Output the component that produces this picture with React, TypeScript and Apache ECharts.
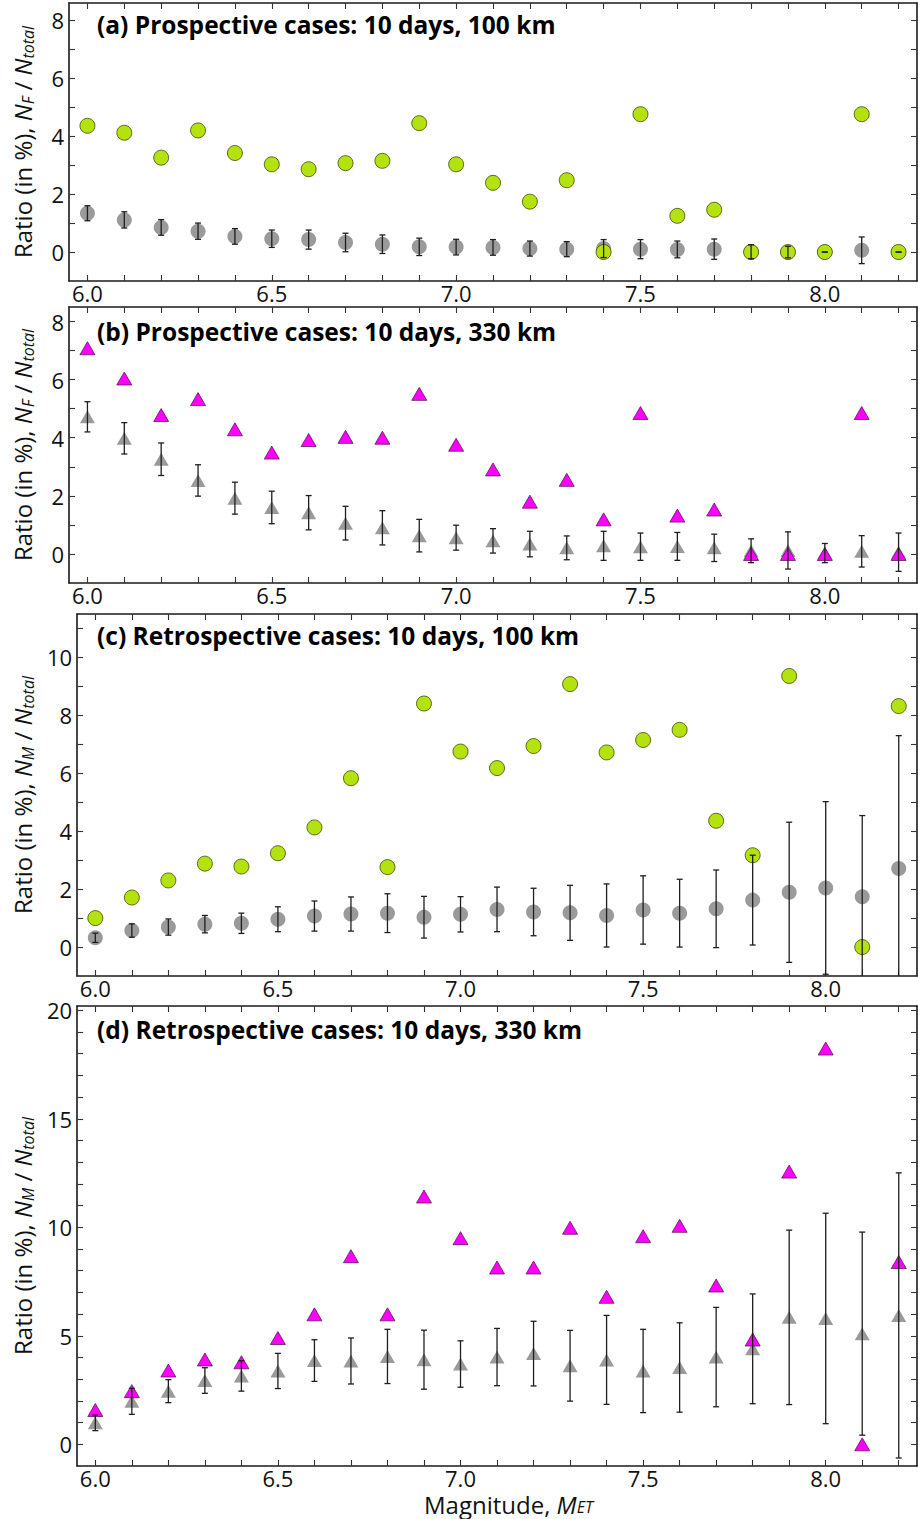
import React, { useEffect, useRef } from "react";
import * as echarts from "echarts";

// ---------- data ----------
const magnitudes = [6.0, 6.1, 6.2, 6.3, 6.4, 6.5, 6.6, 6.7, 6.8, 6.9, 7.0, 7.1, 7.2, 7.3, 7.4, 7.5, 7.6, 7.7, 7.8, 7.9, 8.0, 8.1, 8.2];
const xTickLabels = [6.0, 6.5, 7.0, 7.5, 8.0];

const panelTitles = [
  "(a) Prospective cases: 10 days, 100 km",
  "(b) Prospective cases: 10 days, 330 km",
  "(c) Retrospective cases: 10 days, 100 km",
  "(d) Retrospective cases: 10 days, 330 km",
];
const xAxisTitle = "Magnitude, {i|M}{s|ET}";

// (a) prospective, 100 km
const aObserved = [4.36, 4.12, 3.26, 4.20, 3.42, 3.03, 2.86, 3.07, 3.15, 4.45, 3.03, 2.39, 1.74, 2.48, 0, 4.76, 1.25, 1.46, 0, 0, 0, 4.76, 0];
const aRandom = [1.34, 1.11, 0.85, 0.72, 0.54, 0.46, 0.43, 0.33, 0.27, 0.18, 0.17, 0.16, 0.12, 0.10, 0.12, 0.10, 0.09, 0.10, 0.01, 0.0, 0.0, 0.06, 0.0];
const aError = [0.26, 0.28, 0.27, 0.28, 0.27, 0.30, 0.33, 0.32, 0.32, 0.30, 0.27, 0.27, 0.26, 0.26, 0.31, 0.33, 0.29, 0.35, 0.24, 0.20, 0.0, 0.46, 0.0];

// (b) prospective, 330 km
const bObserved = [7.08, 6.04, 4.78, 5.33, 4.29, 3.49, 3.92, 4.03, 4.00, 5.51, 3.76, 2.91, 1.80, 2.55, 1.19, 4.85, 1.32, 1.53, 0, 0, 0, 4.85, 0];
const bRandom = [4.72, 3.98, 3.26, 2.53, 1.92, 1.60, 1.42, 1.06, 0.90, 0.63, 0.56, 0.45, 0.34, 0.21, 0.28, 0.25, 0.26, 0.21, 0.11, 0.12, 0.03, 0.09, 0.06];
const bError = [0.52, 0.54, 0.56, 0.54, 0.55, 0.56, 0.59, 0.58, 0.59, 0.56, 0.43, 0.42, 0.44, 0.41, 0.50, 0.47, 0.48, 0.47, 0.41, 0.64, 0.33, 0.54, 0.66];

// (c) retrospective, 100 km
const cObserved = [1.0, 1.71, 2.30, 2.88, 2.78, 3.24, 4.13, 5.83, 2.76, 8.41, 6.75, 6.18, 6.94, 9.08, 6.72, 7.15, 7.50, 4.36, 3.17, 9.36, null, 0, 8.32];
const cRandom = [0.32, 0.57, 0.69, 0.79, 0.82, 0.96, 1.07, 1.14, 1.17, 1.03, 1.13, 1.30, 1.21, 1.18, 1.09, 1.28, 1.17, 1.32, 1.62, 1.89, 2.04, 1.74, 2.71];
const cError = [0.16, 0.23, 0.28, 0.30, 0.35, 0.43, 0.52, 0.59, 0.67, 0.72, 0.61, 0.77, 0.82, 0.95, 1.09, 1.18, 1.17, 1.34, 1.55, 2.42, 2.98, 2.80, 4.59];

// (d) retrospective, 330 km
const dObserved = [1.58, 2.45, 3.40, 3.91, 3.78, 4.90, 5.99, 8.67, 5.99, 11.42, 9.50, 8.15, 8.15, 9.98, 6.80, 9.59, 10.07, 7.32, 4.83, 12.57, 18.24, 0, 8.40];
const dRandom = [0.99, 1.98, 2.45, 2.94, 3.15, 3.38, 3.86, 3.84, 4.05, 3.90, 3.70, 4.02, 4.18, 3.62, 3.89, 3.38, 3.54, 4.02, 4.40, 5.85, 5.80, 5.10, 5.94];
const dError = [0.36, 0.60, 0.53, 0.59, 0.70, 0.81, 0.96, 1.06, 1.25, 1.36, 1.07, 1.32, 1.49, 1.63, 2.05, 1.92, 2.06, 2.29, 2.53, 4.02, 4.85, 4.68, 6.57];

const yTicksSmall = [0, 1, 2, 3, 4, 5, 6, 7, 8];
const yLabelsSmall = [0, 2, 4, 6, 8];
const yTicksC = [0, 1, 2, 3, 4, 5, 6, 7, 8, 9, 10, 11];
const yLabelsC = [0, 2, 4, 6, 8, 10];
const yTicksD = [0, 1, 2, 3, 4, 5, 6, 7, 8, 9, 10, 11, 12, 13, 14, 15, 16, 17, 18, 19, 20];
const yLabelsD = [0, 5, 10, 15, 20];

// ---------- styling ----------
const FONT = "'Open Sans'";
const GREEN = "#b4e20f";
const MAGENTA = "#ff00ff";
const GREY = "#9a9a9a";
const AXIS = "#1a1a1a";

type Panel = {
  top: number;
  height: number;
  ymin: number;
  ymax: number;
  yTicks: number[];
  yLabels: number[];
  observed: (number | null)[];
  random: number[];
  error: number[];
  shape: "circle" | "triangle";
  color: string;
  border: string;
  sub: string;
  title: string;
  titleTop: number;
};

const panels: Panel[] = [
  { top: 3, height: 278, ymin: -1, ymax: 8.6, yTicks: yTicksSmall, yLabels: yLabelsSmall, observed: aObserved, random: aRandom, error: aError, shape: "circle", color: GREEN, border: "#3d4a08", sub: "F", title: panelTitles[0], titleTop: 12 },
  { top: 307, height: 276, ymin: -1, ymax: 8.5, yTicks: yTicksSmall, yLabels: yLabelsSmall, observed: bObserved, random: bRandom, error: bError, shape: "triangle", color: MAGENTA, border: "#5a1a5a", sub: "F", title: panelTitles[1], titleTop: 319 },
  { top: 614, height: 362, ymin: -1, ymax: 11.5, yTicks: yTicksC, yLabels: yLabelsC, observed: cObserved, random: cRandom, error: cError, shape: "circle", color: GREEN, border: "#3d4a08", sub: "M", title: panelTitles[2], titleTop: 623 },
  { top: 1006, height: 460, ymin: -1, ymax: 20.2, yTicks: yTicksD, yLabels: yLabelsD, observed: dObserved, random: dRandom, error: dError, shape: "triangle", color: MAGENTA, border: "#5a1a5a", sub: "M", title: panelTitles[3], titleTop: 1017 },
];

function buildOption() {
  const grid: any[] = [];
  const xAxis: any[] = [];
  const yAxis: any[] = [];
  const series: any[] = [];
  const graphic: any[] = [];

  const axisLine = { show: true, onZero: false, lineStyle: { color: AXIS, width: 1.6 } };
  const tickStyle = { color: "#333", width: 1.1 };

  panels.forEach((p, i) => {
    grid.push({ left: 68, right: 1, top: p.top, height: p.height, containLabel: false });
    // bottom x axis
    xAxis.push({
      type: "value",
      gridIndex: i,
      position: "bottom",
      min: 5.95,
      max: 8.25,
      axisLine,
      axisTick: { show: true, inside: true, length: 6, lineStyle: tickStyle, customValues: magnitudes },
      axisLabel: {
        show: true,
        customValues: xTickLabels,
        formatter: (v: number) => v.toFixed(1),
        fontFamily: FONT,
        fontSize: 22,
        lineHeight: 18,
        color: "#111",
        margin: 3,
      },
      splitLine: { show: false },
    });
    // top mirror x axis
    xAxis.push({
      type: "value",
      gridIndex: i,
      position: "top",
      min: 5.95,
      max: 8.25,
      axisLine,
      axisTick: { show: true, inside: true, length: 6, lineStyle: tickStyle, customValues: magnitudes },
      axisLabel: { show: false },
      splitLine: { show: false },
    });
    // left y axis
    yAxis.push({
      type: "value",
      gridIndex: i,
      position: "left",
      min: p.ymin,
      max: p.ymax,
      axisLine,
      axisTick: { show: true, inside: true, length: 6, lineStyle: tickStyle, customValues: p.yTicks },
      axisLabel: {
        show: true,
        customValues: p.yLabels,
        fontFamily: FONT,
        fontSize: 22,
        color: "#111",
        margin: 5,
      },
      splitLine: { show: false },
      name: "Ratio (in %), {i|N}{s|" + p.sub + "} / {i|N}{s|total}",
      nameLocation: "middle",
      nameRotate: 90,
      nameGap: 33,
      nameTextStyle: {
        fontFamily: FONT,
        fontSize: 24,
        color: "#111",
        lineHeight: 28,
        rich: {
          i: { fontFamily: FONT, fontSize: 24, fontStyle: "italic", color: "#111", lineHeight: 28 },
          s: { fontFamily: FONT, fontSize: 16, fontStyle: "italic", color: "#111", lineHeight: 13, verticalAlign: "bottom" },
        },
      },
    });
    // right mirror y axis
    yAxis.push({
      type: "value",
      gridIndex: i,
      position: "right",
      min: p.ymin,
      max: p.ymax,
      axisLine,
      axisTick: { show: true, inside: true, length: 6, lineStyle: tickStyle, customValues: p.yTicks },
      axisLabel: { show: false },
      splitLine: { show: false },
    });

    const xi = 2 * i;
    const yi = 2 * i;
    const symSize = p.shape === "circle" ? 15 : [15, 13];

    // random (grey) markers
    series.push({
      type: "scatter",
      xAxisIndex: xi,
      yAxisIndex: yi,
      symbol: p.shape,
      symbolSize: symSize,
      itemStyle: { color: GREY, opacity: 1 },
      z: 2,
      data: magnitudes.map((m, k) => [m, p.random[k]]),
    });
    // observed (coloured) markers
    series.push({
      type: "scatter",
      xAxisIndex: xi,
      yAxisIndex: yi,
      symbol: p.shape,
      symbolSize: symSize,
      itemStyle: { color: p.color, borderColor: p.border, borderWidth: 0.8, opacity: 1 },
      z: 3,
      data: magnitudes
        .map((m, k) => [m, p.observed[k]])
        .filter((d) => d[1] !== null && d[1] !== undefined),
    });
    // error bars
    series.push({
      type: "custom",
      xAxisIndex: xi,
      yAxisIndex: yi,
      clip: true,
      z: 4,
      encode: { x: 0, y: [1, 2] },
      data: magnitudes.map((m, k) => [m, p.random[k] - p.error[k], p.random[k] + p.error[k]]),
      renderItem: (params: any, api: any) => {
        const x = api.value(0);
        const lo = api.coord([x, api.value(1)]);
        const hi = api.coord([x, api.value(2)]);
        const w = 3;
        const style = { stroke: "#1e1e1e", lineWidth: 1.3, fill: "none" };
        return {
          type: "group",
          children: [
            { type: "line", shape: { x1: lo[0], y1: lo[1], x2: hi[0], y2: hi[1] }, style },
            { type: "line", shape: { x1: lo[0] - w, y1: lo[1], x2: lo[0] + w, y2: lo[1] }, style },
            { type: "line", shape: { x1: hi[0] - w, y1: hi[1], x2: hi[0] + w, y2: hi[1] }, style },
          ],
        };
      },
    });

    graphic.push({
      type: "text",
      left: 97,
      top: p.titleTop,
      z: 10,
      style: { text: p.title, font: `bold 24.5px ${FONT}`, fill: "#000" },
    });
  });

  // x-axis title under the last panel
  graphic.push({
    type: "text",
    left: 424,
    top: 1492,
    z: 10,
    style: {
      text: xAxisTitle,
      fontFamily: FONT,
      fontSize: 24,
      lineHeight: 22,
      fill: "#111",
      rich: {
        i: { fontFamily: FONT, fontSize: 24, fontStyle: "italic", fill: "#111", lineHeight: 22 },
        s: { fontFamily: FONT, fontSize: 16, fontStyle: "italic", fill: "#111", lineHeight: 8, verticalAlign: "bottom" },
      },
    },
  });

  return {
    animation: false,
    backgroundColor: "#ffffff",
    textStyle: { fontFamily: FONT },
    grid,
    xAxis,
    yAxis,
    series,
    graphic,
  };
}

export default function App() {
  const ref = useRef<HTMLDivElement>(null);
  useEffect(() => {
    document.body.style.margin = "0";
    if (!ref.current) return;
    const chart = echarts.init(ref.current, undefined, { renderer: "svg" });
    chart.setOption(buildOption() as any);
    return () => chart.dispose();
  }, []);
  return <div ref={ref} style={{ width: 918, height: 1519, display: "block" }} />;
}
